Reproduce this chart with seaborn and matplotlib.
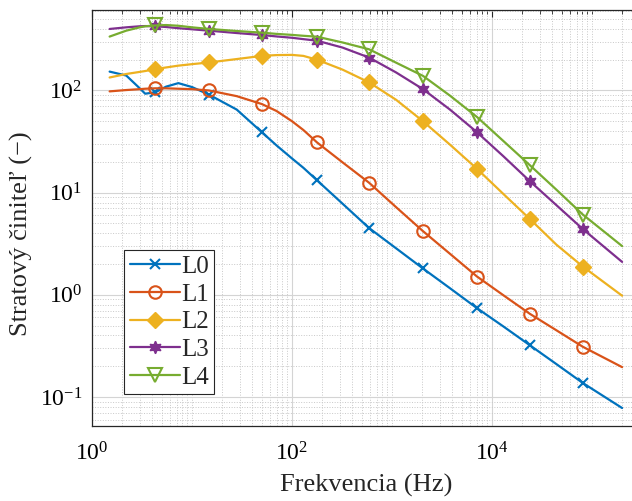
import matplotlib
matplotlib.use("Agg")
import matplotlib.pyplot as plt
from matplotlib.ticker import LogLocator, NullFormatter
import numpy as np
import pandas as pd
import seaborn as sns

sns.set_style("white")
plt.rcParams['font.family'] = ['Liberation Serif', 'DejaVu Serif']
plt.rcParams['mathtext.fontset'] = 'custom'
plt.rcParams['mathtext.rm'] = 'Liberation Serif'

# frequency grid (Hz) shared by all curves
freq = [1.5, 2.2, 3.0, 3.4, 4.3, 5.5, 7.3, 10, 14.8, 28, 50, 70, 100, 130,
        178, 320, 590, 1100, 2040, 3800, 7080, 13000, 24000, 44000, 81000,
        200000]
# frequencies that carry a marker
marker_freq = [4.3, 14.8, 50, 178, 590, 2040, 7080, 24000, 81000]

l0 = [153, 140, 105, 93, 96, 109, 118, 108, 91, 65, 39, 29, 21.6, 17.5,
      13.2, 7.8, 4.5, 2.85, 1.81, 1.16, 0.74, 0.49, 0.32, 0.21, 0.137, 0.078]
l1 = [98, 101, 103, 104, 105, 105, 104, 103, 100, 88, 73.6, 63, 50, 41,
      31, 19.8, 12.5, 7.2, 4.2, 2.52, 1.51, 0.99, 0.65, 0.45, 0.31, 0.196]
l2 = [134, 145, 152, 155, 162, 168, 175, 181, 188, 203, 218, 222, 223, 218,
      200, 160, 120, 81, 50, 29.5, 17.1, 9.7, 5.5, 3.1, 1.89, 0.98]
l3 = [400, 415, 425, 427, 425, 418, 407, 397, 385, 365, 349, 338, 328, 318,
      307, 263, 210, 150, 103, 65, 39, 22.7, 12.9, 7.55, 4.4, 2.1]
l4 = [337, 385, 415, 425, 433, 437, 430, 415, 400, 382, 368, 358, 350, 343,
      336, 295, 253, 187, 139, 89, 55, 32, 18.5, 10.7, 6.1, 3.0]

names = ['L0', 'L1', 'L2', 'L3', 'L4']
colors = ['#0072BD', '#D95319', '#EDB120', '#7E2F8E', '#77AC30']

df = pd.DataFrame({'f': freq, 'L0': l0, 'L1': l1, 'L2': l2, 'L3': l3,
                   'L4': l4})
mark_idx = [i for i, f in enumerate(freq) if f in marker_freq]

styles = {
    'L0': dict(marker='x', markersize=7, mew=1.5),
    'L1': dict(marker='o', markersize=9, mfc='none', mew=1.5),
    'L2': dict(marker='D', markersize=8, mew=1),
    'L3': dict(marker=(6, 1, 0), markersize=9, mew=1),
    'L4': dict(marker='v', markersize=10, mfc='none', mew=1.5),
}

fig = plt.figure(figsize=(6.32, 5.01), dpi=100)
ax = fig.add_axes([0.1456, 0.1497, 0.8666, 0.8313])
ax.set_xscale('log')
ax.set_yscale('log')

for name, c in zip(names, colors):
    sns.lineplot(data=df, x='f', y=name, color=c, lw=1.6, label=name,
                 markevery=mark_idx, markeredgecolor=c, estimator=None,
                 sort=False, ax=ax, **styles[name])

ax.set_xlim(1, 3e5)
ax.set_ylim(0.052, 620)

ax.xaxis.set_major_locator(LogLocator(base=100))
ax.xaxis.set_minor_locator(LogLocator(base=10, subs=np.arange(1, 10),
                                      numticks=30))
ax.xaxis.set_minor_formatter(NullFormatter())
ax.yaxis.set_major_locator(LogLocator(base=10))
ax.yaxis.set_minor_locator(LogLocator(base=10, subs=np.arange(2, 10),
                                      numticks=30))
ax.yaxis.set_minor_formatter(NullFormatter())

ax.grid(True, which='major', color='#d4d4d4', lw=0.8, ls='-')
ax.grid(True, which='minor', color='#c8c8c8', lw=0.7, ls=':')
ax.set_axisbelow(True)

ax.tick_params(which='both', direction='in', top=True, right=True,
               colors='#262626', labelcolor='black')
ax.tick_params(which='major', length=5, width=0.8, labelsize=17)
ax.tick_params(which='minor', length=3, width=0.6)
ax.tick_params(axis='x', which='major', pad=12)
ax.tick_params(axis='y', which='major', pad=7)
for s in ax.spines.values():
    s.set_color('#262626')
    s.set_linewidth(0.9)

ax.set_xlabel('Frekvencia (Hz)', fontsize=19, labelpad=6)
ax.set_ylabel('Stratový činiteľ (−)', fontsize=19)
ax.yaxis.set_label_coords(-0.108, 0.461)

leg = ax.legend(loc='upper left', bbox_to_anchor=(0.0584, 0.4226),
                borderaxespad=0, fontsize=18, frameon=True, fancybox=False,
                framealpha=1, edgecolor='#262626', handlelength=2.0,
                handletextpad=0.05, labelspacing=0.21, borderpad=0.22)
leg.get_frame().set_linewidth(0.8)

fig.savefig('out.png', dpi=100)
